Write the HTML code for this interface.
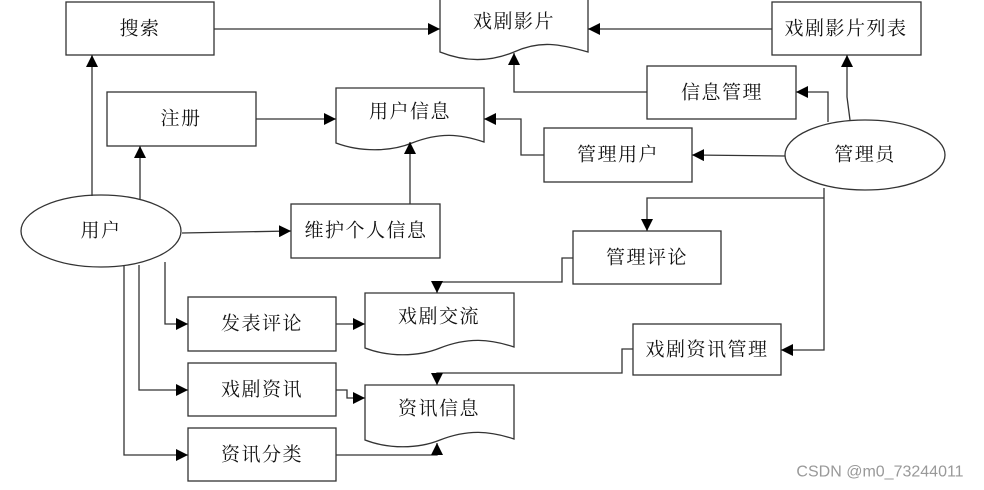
<!DOCTYPE html>
<html><head><meta charset="utf-8"><style>
html,body{margin:0;padding:0;background:#fff;}
svg{display:block;}
text{font-family:"Liberation Serif","Noto Serif CJK SC",serif;font-size:19px;fill:#111;text-anchor:middle;dominant-baseline:central;letter-spacing:1.5px;}
.b{fill:#fff;stroke:#333;stroke-width:1.3;}
.l{fill:none;stroke:#333;stroke-width:1.3;}
</style></head><body>
<svg width="984" height="490" viewBox="0 0 984 490" xmlns="http://www.w3.org/2000/svg">
<defs>
<marker id="a" viewBox="0 0 10 10" refX="10" refY="5" markerWidth="12" markerHeight="12" markerUnits="userSpaceOnUse" orient="auto">
<path d="M0,0 L10,5 L0,10 z" fill="#000"/></marker>
</defs>
<path class="b" d="M440,-2 H588 V52 C560,44 540,40 514,52 C490,62 465,62 440,52 Z"/>
<text x="514" y="22">戏剧影片</text>
<path class="b" d="M336,88 H484 V142 C460,134 440,132 412,143 C390,152 360,152 336,143 Z"/>
<text x="410" y="112">用户信息</text>
<path class="b" d="M365,293 H514 V347 C490,339 468,337 440,348 C418,357 388,357 365,348 Z"/>
<text x="439" y="317">戏剧交流</text>
<path class="b" d="M365,385 H514 V439 C490,431 468,429 440,440 C418,449 388,449 365,440 Z"/>
<text x="439" y="409">资讯信息</text>
<rect class="b" x="66" y="2" width="148" height="53"/><text x="140" y="29">搜索</text>
<rect class="b" x="772" y="2" width="149" height="53"/><text x="846" y="29">戏剧影片列表</text>
<rect class="b" x="107" y="92" width="149" height="54"/><text x="181" y="119">注册</text>
<rect class="b" x="647" y="66" width="149" height="53"/><text x="722" y="93">信息管理</text>
<rect class="b" x="544" y="128" width="148" height="54"/><text x="618" y="155">管理用户</text>
<rect class="b" x="291" y="204" width="149" height="54"/><text x="366" y="231">维护个人信息</text>
<rect class="b" x="573" y="231" width="148" height="53"/><text x="647" y="258">管理评论</text>
<rect class="b" x="188" y="297" width="148" height="54"/><text x="262" y="324">发表评论</text>
<rect class="b" x="633" y="324" width="148" height="51"/><text x="707" y="350">戏剧资讯管理</text>
<rect class="b" x="188" y="363" width="148" height="53"/><text x="262" y="390">戏剧资讯</text>
<rect class="b" x="188" y="428" width="148" height="53"/><text x="262" y="455">资讯分类</text>
<ellipse class="b" cx="865" cy="155" rx="80" ry="35"/><text x="865" y="155">管理员</text>
<ellipse class="b" cx="101" cy="231" rx="80" ry="36"/><text x="101" y="231">用户</text>
<path class="l" marker-end="url(#a)" d="M92,196 V55"/>
<path class="l" marker-end="url(#a)" d="M140,199 V146"/>
<path class="l" marker-end="url(#a)" d="M182,233 L291,231"/>
<path class="l" marker-end="url(#a)" d="M410,204 V142"/>
<path class="l" marker-end="url(#a)" d="M256,119 H336"/>
<path class="l" marker-end="url(#a)" d="M214,29 H440"/>
<path class="l" marker-end="url(#a)" d="M772,29 H588"/>
<path class="l" marker-end="url(#a)" d="M647,92 H514 V53"/>
<path class="l" marker-end="url(#a)" d="M544,155 H521 V119 H484"/>
<path class="l" marker-end="url(#a)" d="M785,156 L692,155"/>
<path class="l" marker-end="url(#a)" d="M850,120 L847,97 V55"/>
<path class="l" marker-end="url(#a)" d="M828,122 V92 H796"/>
<path class="l" marker-end="url(#a)" d="M824,188 V350 H781"/>
<path class="l" marker-end="url(#a)" d="M824,198 H647 V231"/>
<path class="l" marker-end="url(#a)" d="M573,258 H562 V282 H437 V293"/>
<path class="l" marker-end="url(#a)" d="M633,349 H622 V373 H437 V385"/>
<path class="l" marker-end="url(#a)" d="M165,262 V324 H188"/>
<path class="l" marker-end="url(#a)" d="M139,265 V390 H188"/>
<path class="l" marker-end="url(#a)" d="M124,266 V455 H188"/>
<path class="l" marker-end="url(#a)" d="M336,324 H365"/>
<path class="l" marker-end="url(#a)" d="M336,390 H347 V398 H365"/>
<path class="l" marker-end="url(#a)" d="M336,455 H437 V443"/>
<text x="880" y="472" style="font-family:'Liberation Sans',sans-serif;font-size:16px;fill:#999;letter-spacing:0;">CSDN @m0_73244011</text>
</svg>
</body></html>
